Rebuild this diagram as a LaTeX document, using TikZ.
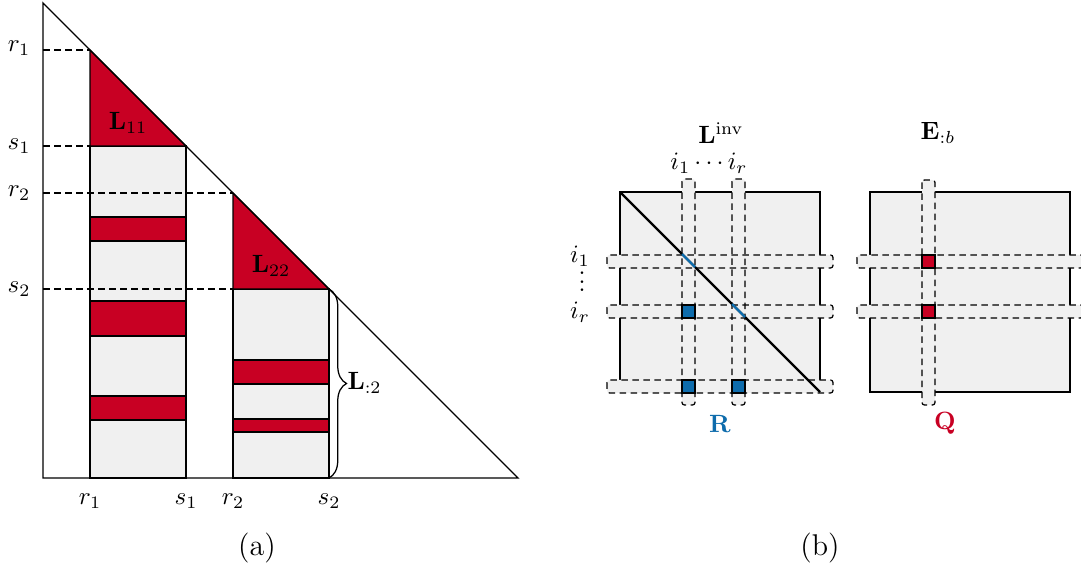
\documentclass[tikz,border=0pt]{standalone}
\usetikzlibrary{decorations.pathreplacing}
\definecolor{myred}{RGB}{200,0,35}
\definecolor{myblue}{RGB}{14,108,172}
\definecolor{mygrey}{RGB}{240,240,240}
\begin{document}
\begin{tikzpicture}[x=0.4pt,y=-0.4pt,
  ln/.style={line width=0.5pt},
  dsh/.style={line width=0.5pt,dash pattern=on 2.6pt off 1.8pt},
  blk/.style={ln,fill=mygrey},
  redbox/.style={ln,fill=myred},
  bluebox/.style={ln,fill=myblue},
  band/.style={fill=mygrey,rounded corners=1pt},
  bandline/.style={dsh,rounded corners=1pt},
  lab/.style={inner sep=0pt}]
\useasboundingbox (0,0) rectangle (1081,572);
% ---------------- (a) ----------------
% block 1
\draw[blk] (90,146) rectangle (186,478);
\draw[redbox] (90,217) rectangle (186,241);
\draw[redbox] (90,301) rectangle (186,336);
\draw[redbox] (90,396) rectangle (186,420);
\draw[redbox] (90,50) -- (186,146) -- (90,146) -- cycle;
% block 2
\draw[blk] (233,289) rectangle (329,478);
\draw[redbox] (233,360) rectangle (329,384);
\draw[redbox] (233,419) rectangle (329,432);
\draw[redbox] (233,193) -- (329,289) -- (233,289) -- cycle;
% triangle
\draw[ln] (43,3) -- (43,478) -- (518,478) -- cycle;
% dashed guides
\draw[dsh] (43,50) -- (90,50);
\draw[dsh] (43,146) -- (90,146);
\draw[dsh] (43,193) -- (233,193);
\draw[dsh] (43,289) -- (233,289);
% brace
\draw[ln,decorate,decoration={brace,amplitude=7pt}] (329,289) -- (329,478);
% labels
\node[lab] (Lone) at (128,123) {$\mathbf{L}_{11}$};
\node[lab] (Ltwo) at (271,266) {$\mathbf{L}_{22}$};
\node[lab,anchor=west] (Lcol) at (347,383) {$\mathbf{L}_{:2}$};
\node[lab] (yr1) at (19,48) {$r_1$};
\node[lab] (ys1) at (19,146) {$s_1$};
\node[lab] (yr2) at (19,193) {$r_2$};
\node[lab] (ys2) at (19,289) {$s_2$};
\node[lab] (xr1) at (90,501) {$r_1$};
\node[lab] (xs1) at (186,501) {$s_1$};
\node[lab] (xr2) at (233,501) {$r_2$};
\node[lab] (xs2) at (329,501) {$s_2$};
\node[lab] (capa) at (257,548) {\fontsize{12}{14}\selectfont (a)};
% ---------------- (b) ----------------
% L^inv matrix
\draw[blk] (620,192) rectangle (820,392);
\foreach \y in {255,305,380}{\fill[band] (607,\y) rectangle (833,\y+13);}
\foreach \x in {682,732}{\fill[band] (\x,179) rectangle (\x+13,405);}
\foreach \y in {255,305,380}{\draw[bandline] (607,\y) rectangle (833,\y+13);}
\foreach \x in {682,732}{\draw[bandline] (\x,179) rectangle (\x+13,405);}
\draw[bluebox] (682,305) rectangle (695,318);
\draw[bluebox] (682,380) rectangle (695,393);
\draw[bluebox] (732,380) rectangle (745,393);
\draw[line width=0.9pt] (620,192) -- (820,392);
\draw[line width=0.9pt,myblue] (682,254) -- (695,267);
\draw[line width=0.9pt,myblue] (732,304) -- (745,317);
% E matrix
\draw[blk] (870,192) rectangle (1070,392);
\foreach \y in {255,305}{\fill[band] (857,\y) rectangle (1083,\y+13);}
\fill[band] (922,180) rectangle (935,405);
\foreach \y in {255,305}{\draw[bandline] (857,\y) rectangle (1083,\y+13);}
\draw[bandline] (922,180) rectangle (935,405);
\draw[redbox] (922,255) rectangle (935,268);
\draw[redbox] (922,305) rectangle (935,318);
% labels
\node[lab] (Linv) at (721,133) {$\mathbf{L}^{\mathrm{inv}}$};
\node[lab] (cols) at (709,163) {$i_1\cdots i_r$};
\node[lab] (ri1) at (580,256) {$i_1$};
\node[lab] (rvd) at (582,282) {\vbox{\baselineskip=3.4pt\lineskiplimit=-10pt\hbox{.}\hbox{.}\hbox{.}}};
\node[lab] (rir) at (580,312) {$i_r$};
\node[lab,text=myblue] (R) at (720,424) {$\mathbf{R}$};
\node[lab] (Eb) at (938,133) {$\mathbf{E}_{:b}$};
\node[lab,text=myred] (Q) at (945,423) {$\mathbf{Q}$};
\node[lab] (capb) at (820,548) {\fontsize{12}{14}\selectfont (b)};
\end{tikzpicture}
\end{document}
